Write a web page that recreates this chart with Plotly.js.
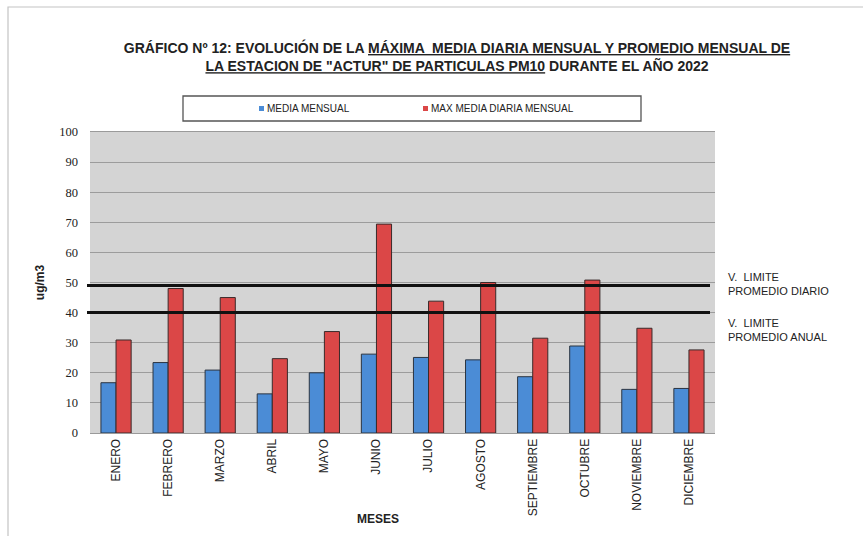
<!DOCTYPE html>
<html>
<head>
<meta charset="utf-8">
<script src="https://cdn.plot.ly/plotly-3.0.1.min.js"></script>
<style>
  html, body { margin: 0; padding: 0; background: #fff; }
  #chart { width: 863px; height: 536px; }
</style>
</head>
<body>
<div id="chart"></div>
<script>
// Meses del año
const meses = ['ENERO', 'FEBRERO', 'MARZO', 'ABRIL', 'MAYO', 'JUNIO', 'JULIO',
               'AGOSTO', 'SEPTIEMBRE', 'OCTUBRE', 'NOVIEMBRE', 'DICIEMBRE'];
// Media mensual PM10 (ug/m3)
const mediaMensual = [16.7, 23.4, 20.9, 13.0, 20.0, 26.2, 25.1, 24.3, 18.7, 28.9, 14.5, 14.8];
// Máxima media diaria mensual PM10 (ug/m3)
const maxMediaDiaria = [30.9, 48.0, 45.0, 24.7, 33.7, 69.4, 43.8, 50.0, 31.5, 50.8, 34.8, 27.6];
// Valores límite
const limiteDiario = 49;
const limiteAnual = 40;
const yTicks = [0, 10, 20, 30, 40, 50, 60, 70, 80, 90, 100];

const seriesNames = ['MEDIA MENSUAL', 'MAX MEDIA DIARIA MENSUAL'];
const azul = '#4b8cd6';
const rojo = '#db4747';

const sans = 'Liberation Sans, Arial, sans-serif';

const traces = [
  {
    type: 'bar', name: seriesNames[0], x: meses, y: mediaMensual,
    marker: { color: azul, line: { color: '#2b3440', width: 1 } },
    hoverinfo: 'x+y'
  },
  {
    type: 'bar', name: seriesNames[1], x: meses, y: maxMediaDiaria,
    marker: { color: rojo, line: { color: '#3a2a2a', width: 1 } },
    hoverinfo: 'x+y'
  }
];

// plot area spans 90..715 px horizontally, 132..433 px vertically
const W = 863, H = 536, L = 90, R = 148, T = 132, B = 103;
const pw = W - L - R, ph = H - T - B;
const px = v => (v - L) / pw;            // pixel x -> paper x
const py = v => (H - B - v) / ph;        // pixel y -> paper y

const shapes = [
  // outer frame of the figure
  { type: 'rect', xref: 'paper', yref: 'paper', x0: px(8), x1: px(880), y0: py(560), y1: py(7),
    line: { color: '#c4c4c4', width: 1.2 }, layer: 'below' },
  // legend box
  { type: 'rect', xref: 'paper', yref: 'paper', x0: px(183), x1: px(641), y0: py(121), y1: py(96),
    line: { color: '#555', width: 1.3 }, fillcolor: '#fff' },
  // legend swatches
  { type: 'rect', xref: 'paper', yref: 'paper', x0: px(259), x1: px(264), y0: py(111), y1: py(106),
    line: { width: 0 }, fillcolor: azul },
  { type: 'rect', xref: 'paper', yref: 'paper', x0: px(423), x1: px(428), y0: py(111), y1: py(106),
    line: { width: 0 }, fillcolor: rojo },
  // limit lines
  { type: 'line', xref: 'paper', yref: 'y', x0: px(87), x1: px(710), y0: limiteDiario, y1: limiteDiario,
    line: { color: '#111', width: 3 } },
  { type: 'line', xref: 'paper', yref: 'y', x0: px(87), x1: px(710), y0: limiteAnual, y1: limiteAnual,
    line: { color: '#111', width: 3 } }
];

const u = s => '<span style="text-decoration:underline">' + s + '</span>';

const annotations = [
  { xref: 'paper', yref: 'paper', x: px(265), y: py(108.5), xanchor: 'left', yanchor: 'middle',
    text: seriesNames[0], showarrow: false, font: { family: sans, size: 10, color: '#222' } },
  { xref: 'paper', yref: 'paper', x: px(429), y: py(108.5), xanchor: 'left', yanchor: 'middle',
    text: seriesNames[1], showarrow: false, font: { family: sans, size: 10, color: '#222' } },
  { xref: 'paper', yref: 'paper', x: px(726), y: py(284), xanchor: 'left', yanchor: 'middle', align: 'left',
    text: 'V.  LIMITE<br>PROMEDIO DIARIO', showarrow: false, font: { family: sans, size: 11, color: '#222' } },
  { xref: 'paper', yref: 'paper', x: px(726), y: py(330), xanchor: 'left', yanchor: 'middle', align: 'left',
    text: 'V.  LIMITE<br>PROMEDIO ANUAL', showarrow: false, font: { family: sans, size: 11, color: '#222' } },
  { xref: 'paper', yref: 'paper', x: px(378), y: py(519), xanchor: 'center', yanchor: 'middle',
    text: '<b>MESES</b>', showarrow: false, font: { family: sans, size: 12, color: '#222' } }
];

const layout = {
  width: W, height: H,
  margin: { l: L, r: R, t: T, b: B },
  paper_bgcolor: '#fff',
  plot_bgcolor: '#d4d4d4',
  showlegend: false,
  barmode: 'group',
  bargap: 0.42,
  bargroupgap: 0,
  title: {
    text: '<b>GRÁFICO Nº 12: EVOLUCIÓN DE LA ' + u('MÁXIMA  MEDIA DIARIA MENSUAL Y PROMEDIO MENSUAL DE') +
          '<br>' + u('LA ESTACION DE "ACTUR" DE PARTICULAS PM10') + ' DURANTE EL AÑO 2022</b>',
    x: 457 / W, xanchor: 'center',
    y: 1 - 53 / H, yanchor: 'top', yref: 'container',
    font: { family: sans, size: 14, color: '#222' }
  },
  xaxis: {
    type: 'category',
    tickangle: -90,
    tickfont: { family: sans, size: 12, color: '#222' },
    showgrid: false,
    showline: true, linecolor: '#9a9a9a', linewidth: 1,
    mirror: true,
    ticks: '',
    automargin: false,
    fixedrange: true
  },
  yaxis: {
    range: [0, 100],
    tickvals: yTicks,
    ticktext: yTicks.map(String),
    tickfont: { family: 'Liberation Serif, Times New Roman, serif', size: 12.5, color: '#222' },
    showgrid: true, gridcolor: '#9c9c9c', gridwidth: 1,
    zeroline: false,
    showline: false,
    ticks: '',
    ticklabelstandoff: 11,
    automargin: false,
    fixedrange: true,
    title: { text: '<b>ug/m3</b>', font: { family: sans, size: 12, color: '#222' }, standoff: 12 }
  },
  shapes: shapes,
  annotations: annotations
};

Plotly.newPlot('chart', traces, layout, { displayModeBar: false, staticPlot: true });
</script>
</body>
</html>
